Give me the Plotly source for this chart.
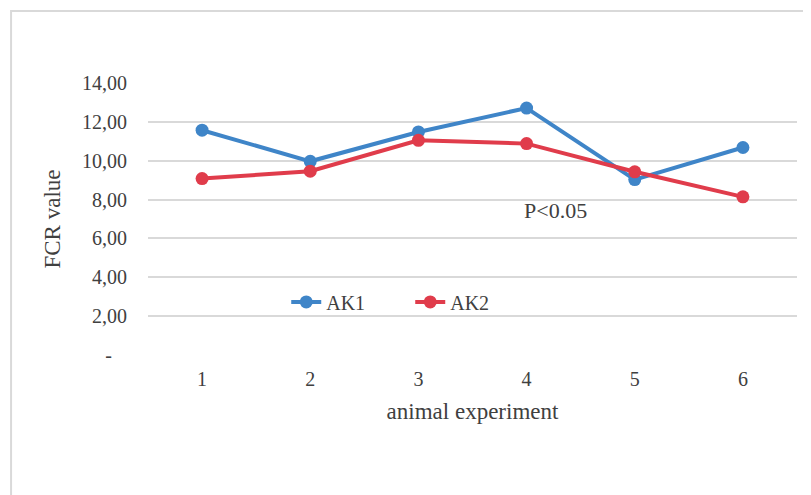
import plotly.graph_objects as go

categories = ["1", "2", "3", "4", "5", "6"]
ak1 = [11.57, 9.97, 11.48, 12.71, 9.03, 10.68]
ak2 = [9.08, 9.46, 11.05, 10.88, 9.43, 8.14]
ytick_vals = [0, 2, 4, 6, 8, 10, 12, 14]
ytick_text = ["-\u00a0\u00a0\u00a0", "2,00", "4,00", "6,00", "8,00", "10,00", "12,00", "14,00"]

BLUE = "#3F85C8"
RED = "#E03C4B"
FONT = "Liberation Serif"
TXT = "#404040"

fig = go.Figure()
fig.add_trace(go.Scatter(x=categories, y=ak1, name="AK1", mode="lines+markers",
                         line=dict(color=BLUE, width=4), marker=dict(size=13, color=BLUE)))
fig.add_trace(go.Scatter(x=categories, y=ak2, name="AK2", mode="lines+markers",
                         line=dict(color=RED, width=4), marker=dict(size=13, color=RED)))

fig.update_layout(
    width=803, height=487,
    margin=dict(l=140, r=14, t=75, b=140),
    paper_bgcolor="white", plot_bgcolor="white",
    font=dict(family=FONT, size=20, color=TXT),
    showlegend=True,
    legend=dict(orientation="h", x=0.213, y=0.195, xanchor="left", yanchor="middle",
                font=dict(family=FONT, size=20, color=TXT),
                bgcolor="rgba(0,0,0,0)", itemwidth=30, tracegroupgap=0,
                entrywidth=79, entrywidthmode="pixels"),
    xaxis=dict(type="category", range=[-0.5, 5.5], showgrid=False, zeroline=False,
               showline=False, ticks="", ticklabelstandoff=10,
               tickfont=dict(family=FONT, size=20, color=TXT),
               title=dict(text="animal experiment", standoff=13,
                          font=dict(family=FONT, size=23, color=TXT))),
    yaxis=dict(range=[0, 14], tickvals=ytick_vals, ticktext=ytick_text,
               showgrid=True, gridcolor="#D9D9D9", gridwidth=2, zeroline=False,
               showline=False, ticks="", ticklabelstandoff=20,
               tickfont=dict(family=FONT, size=20, color=TXT),
               title=dict(text="FCR value", standoff=14,
                          font=dict(family=FONT, size=23, color=TXT))),
    annotations=[dict(x=3.27, y=7.45, xref="x", yref="y", text="P<0.05", showarrow=False,
                      font=dict(family=FONT, size=22, color=TXT))],
    shapes=[dict(type="rect", xref="paper", yref="paper", x0=-0.211, x1=1.05, y0=-0.7, y1=1.265,
                 line=dict(color="#D9D9D9", width=2), layer="below")],
)

fig.write_html("out.html")
